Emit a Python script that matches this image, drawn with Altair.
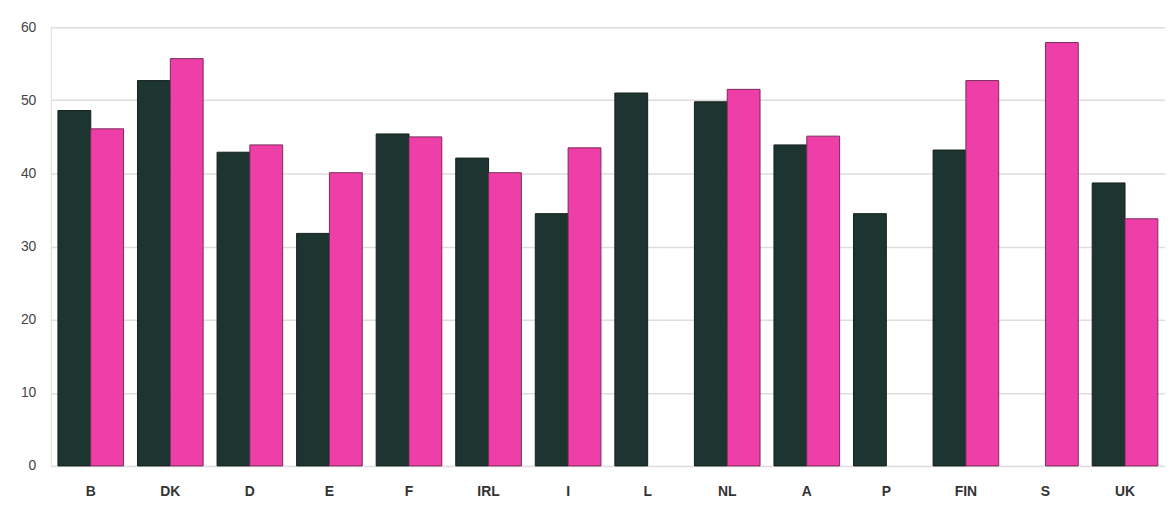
import altair as alt
import pandas as pd

countries = ["B", "DK", "D", "E", "F", "IRL", "I", "L", "NL", "A", "P", "FIN", "S", "UK"]
series_a = [48.6, 52.7, 42.9, 31.8, 45.4, 42.1, 34.5, 51.0, 49.8, 43.9, 34.5, 43.2, None, 38.7]
series_b = [46.1, 55.7, 43.9, 40.1, 45.0, 40.1, 43.5, None, 51.5, 45.1, None, 52.7, 57.9, 33.8]
series_names = ["a", "b"]
y_ticks = [0, 10, 20, 30, 40, 50, 60]

rows = []
for c, a, b in zip(countries, series_a, series_b):
    if a is not None:
        rows.append({"country": c, "series": "a", "value": a})
    if b is not None:
        rows.append({"country": c, "series": "b", "value": b})
df = pd.DataFrame(rows)

chart = alt.Chart(df).mark_bar(strokeWidth=1).encode(
    x=alt.X("country:N", sort=countries,
            scale=alt.Scale(domain=countries, paddingInner=0.175, paddingOuter=0.09),
            axis=alt.Axis(title=None, labelAngle=0, labelFontSize=14, labelFont="Liberation Sans",
                          labelFontWeight="bold", labelColor="#333333", ticks=False, domain=False,
                          labelPadding=19)),
    xOffset=alt.XOffset("series:N", scale=alt.Scale(domain=series_names, paddingInner=0, paddingOuter=0)),
    y=alt.Y("value:Q", scale=alt.Scale(domain=[0, 60], nice=False),
            axis=alt.Axis(title=None, values=y_ticks, labelFontSize=14, labelFont="Liberation Sans",
                          labelColor="#444444", ticks=False, domain=False, labelPadding=15,
                          gridColor="#dddddd", gridWidth=1.5)),
    color=alt.Color("series:N", scale=alt.Scale(domain=series_names, range=["#1c3530", "#ee3fa8"]), legend=None),
    stroke=alt.Stroke("series:N", scale=alt.Scale(domain=series_names, range=["#161f1c", "#7a2a5a"]), legend=None),
).properties(
    width=1120, height=441,
    autosize=alt.AutoSizeParams(type="none"),
    padding={"left": 43, "top": 18, "right": 0, "bottom": 40},
).configure_view(stroke=None).configure(background="white")

chart.save("out.html", embed_options={"renderer": "svg", "actions": False})
